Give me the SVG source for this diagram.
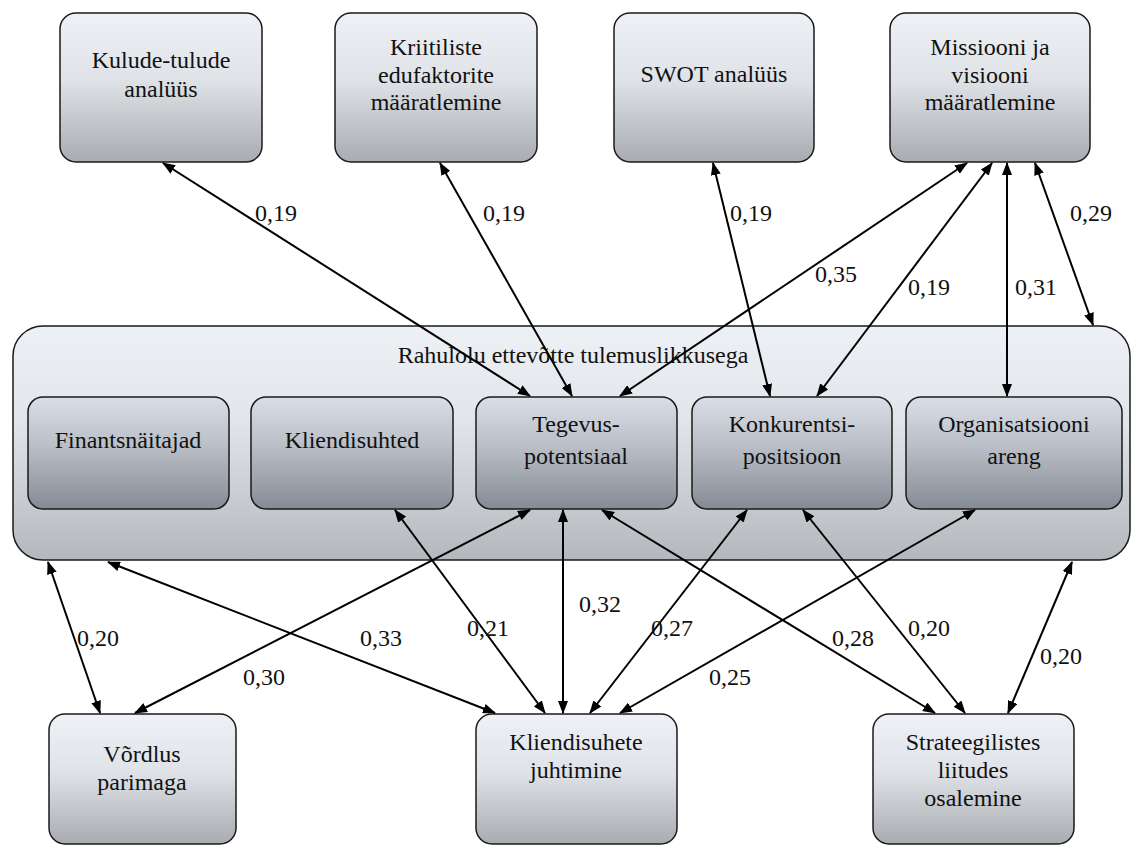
<svg xmlns="http://www.w3.org/2000/svg" width="1131" height="846" viewBox="0 0 1131 846">
<defs>
<linearGradient id="gOuter" x1="0" y1="0" x2="0" y2="1">
<stop offset="0" stop-color="#eef1f6"/>
<stop offset="0.45" stop-color="#dfe2e7"/>
<stop offset="1" stop-color="#a8abb0"/>
</linearGradient>
<linearGradient id="gCont" x1="0" y1="0" x2="0" y2="1">
<stop offset="0" stop-color="#edf0f5"/>
<stop offset="0.4" stop-color="#e2e5ea"/>
<stop offset="1" stop-color="#b4b7bc"/>
</linearGradient>
<linearGradient id="gInner" x1="0" y1="0" x2="0" y2="1">
<stop offset="0" stop-color="#d9dee7"/>
<stop offset="0.45" stop-color="#b9bec6"/>
<stop offset="1" stop-color="#858b94"/>
</linearGradient>
<marker id="ah" viewBox="0 0 13 10" refX="12" refY="5" markerWidth="13" markerHeight="10" markerUnits="userSpaceOnUse" orient="auto-start-reverse">
<path d="M0,0 L13,5 L0,10 z" fill="#000"/>
</marker>
<style>
.box{fill:url(#gOuter);stroke:#1a1a1a;stroke-width:1.5}
.cont{fill:url(#gCont);stroke:#1a1a1a;stroke-width:1.5}
.inner{fill:url(#gInner);stroke:#1a1a1a;stroke-width:1.5}
text{font-family:"Liberation Serif","Times New Roman",serif;font-size:24px;fill:#111}
.c{text-anchor:middle}
.con line{stroke:#000;stroke-width:2;marker-start:url(#ah);marker-end:url(#ah)}
</style>
</defs>

<g id="kulude"><rect class="box" x="60" y="13" width="202" height="149" rx="16"/>
<text class="c" x="161" y="68">Kulude-tulude</text><text class="c" x="161" y="97">analüüs</text></g>
<g id="kriitiliste"><rect class="box" x="335" y="13" width="202" height="149" rx="16"/>
<text class="c" x="436" y="55">Kriitiliste</text><text class="c" x="436" y="83">edufaktorite</text><text class="c" x="436" y="110">määratlemine</text></g>
<g id="swot"><rect class="box" x="614" y="13" width="200" height="149" rx="16"/>
<text class="c" x="714" y="82">SWOT analüüs</text></g>
<g id="missiooni"><rect class="box" x="890" y="13" width="200" height="149" rx="16"/>
<text class="c" x="990" y="55">Missiooni ja</text><text class="c" x="990" y="83">visiooni</text><text class="c" x="990" y="110">määratlemine</text></g>

<g id="rahulolu"><rect class="cont" x="13" y="326" width="1117" height="234" rx="30"/>
<text class="c" x="573" y="363">Rahulolu ettevõtte tulemuslikkusega</text></g>
<g id="finants"><rect class="inner" x="28" y="397" width="201" height="112" rx="15"/>
<text class="c" x="128" y="448">Finantsnäitajad</text></g>
<g id="kliendisuhted"><rect class="inner" x="251" y="397" width="202" height="112" rx="15"/>
<text class="c" x="352" y="448">Kliendisuhted</text></g>
<g id="tegevus"><rect class="inner" x="476" y="397" width="201" height="112" rx="15"/>
<text class="c" x="576" y="432">Tegevus-</text><text class="c" x="576" y="464">potentsiaal</text></g>
<g id="konkurentsi"><rect class="inner" x="692" y="397" width="200" height="112" rx="15"/>
<text class="c" x="792" y="432">Konkurentsi-</text><text class="c" x="792" y="464">positsioon</text></g>
<g id="organisatsiooni"><rect class="inner" x="906" y="397" width="216" height="112" rx="15"/>
<text class="c" x="1014" y="432">Organisatsiooni</text><text class="c" x="1014" y="464">areng</text></g>

<g id="vordlus"><rect class="box" x="49" y="714" width="187" height="130" rx="16"/>
<text class="c" x="142" y="762">Võrdlus</text><text class="c" x="142" y="790">parimaga</text></g>
<g id="kliendijuht"><rect class="box" x="476" y="714" width="201" height="130" rx="16"/>
<text class="c" x="576" y="750">Kliendisuhete</text><text class="c" x="576" y="778">juhtimine</text></g>
<g id="strateegilistes"><rect class="box" x="873" y="714" width="201" height="130" rx="16"/>
<text class="c" x="973" y="750">Strateegilistes</text><text class="c" x="973" y="778">liitudes</text><text class="c" x="973" y="806">osalemine</text></g>

<g class="con" id="connectors">
<line x1="163" y1="163" x2="530" y2="396"/>
<line x1="440" y1="163" x2="572" y2="396"/>
<line x1="713" y1="163" x2="770" y2="396"/>
<line x1="967" y1="163" x2="620" y2="396"/>
<line x1="992" y1="163" x2="817" y2="396"/>
<line x1="1007" y1="163" x2="1007" y2="396"/>
<line x1="1035" y1="163" x2="1093" y2="325"/>
<line x1="48" y1="562" x2="100" y2="713"/>
<line x1="108" y1="562" x2="495" y2="713"/>
<line x1="530" y1="510" x2="135" y2="713"/>
<line x1="395" y1="510" x2="545" y2="713"/>
<line x1="563" y1="510" x2="563" y2="713"/>
<line x1="747" y1="510" x2="590" y2="713"/>
<line x1="975" y1="510" x2="620" y2="713"/>
<line x1="602" y1="510" x2="935" y2="713"/>
<line x1="803" y1="510" x2="965" y2="713"/>
<line x1="1072" y1="562" x2="1008" y2="713"/>
</g>
<g id="labels">
<text x="255" y="221">0,19</text>
<text x="483" y="221">0,19</text>
<text x="730" y="221">0,19</text>
<text x="1070" y="221">0,29</text>
<text x="815" y="282">0,35</text>
<text x="908" y="295">0,19</text>
<text x="1015" y="295">0,31</text>
<text x="77" y="646">0,20</text>
<text x="243" y="685">0,30</text>
<text x="360" y="646">0,33</text>
<text x="467" y="636">0,21</text>
<text x="579" y="612">0,32</text>
<text x="651" y="636">0,27</text>
<text x="709" y="685">0,25</text>
<text x="832" y="646">0,28</text>
<text x="908" y="636">0,20</text>
<text x="1040" y="664">0,20</text>
</g>
</svg>
